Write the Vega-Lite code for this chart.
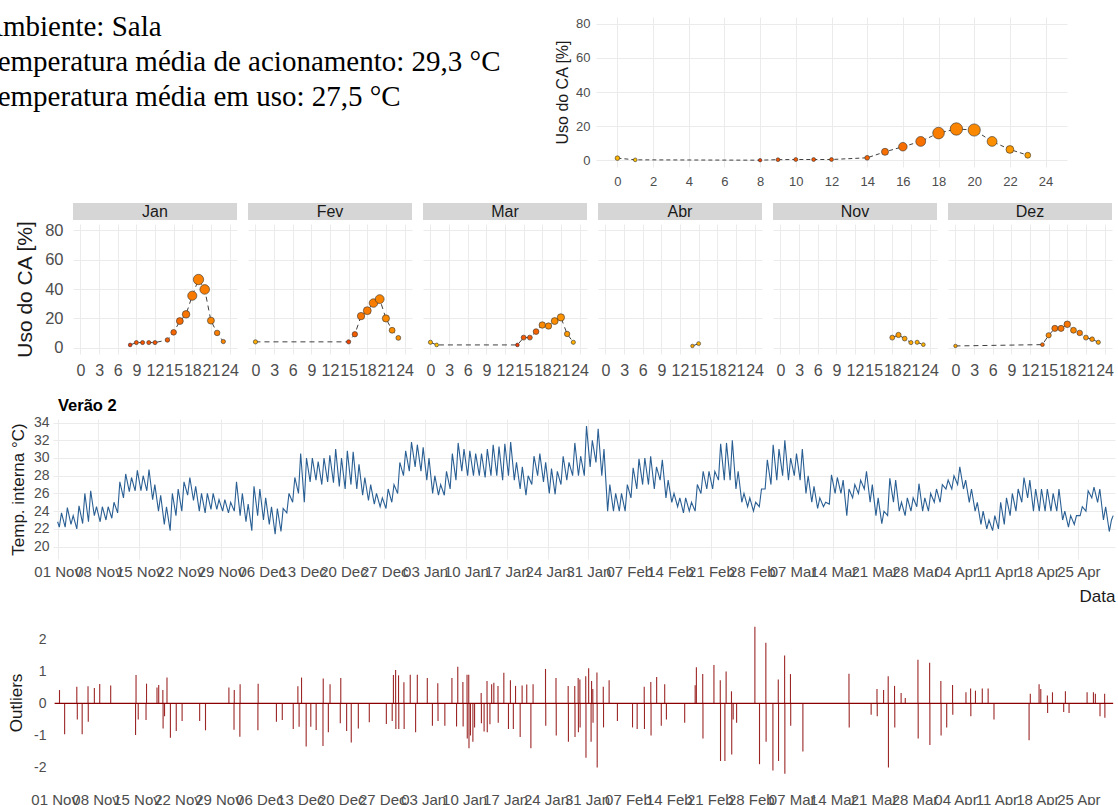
{
"$schema":"https://vega.github.io/schema/vega-lite/v6.json",
"background":"white",
"padding":{"left":-18,"top":13,"right":3,"bottom":2},
"config":{
 "view":{"stroke":null},
 "font":"Liberation Sans",
 "axis":{"domain":false,"ticks":false,"gridColor":"#EBEBEB","gridWidth":1,"labelColor":"#4D4D4D","titleColor":"#1A1A1A","titleFontWeight":"normal","labelFlush":false,"labelOverlap":false,"labelBound":false,"labelFont":"Liberation Sans","titleFont":"Liberation Sans"}
},
"datasets":{
"geral":[{"h":0,"uso":1.2,"temp":27.3},{"h":1,"uso":0.2,"temp":26.9},{"h":8,"uso":0.0,"temp":31.0},{"h":9,"uso":0.3,"temp":30.4},{"h":10,"uso":0.4,"temp":30.3},{"h":11,"uso":0.4,"temp":30.3},{"h":12,"uso":0.4,"temp":30.3},{"h":14,"uso":1.4,"temp":30.0},{"h":15,"uso":4.9,"temp":29.6},{"h":16,"uso":7.9,"temp":29.7},{"h":17,"uso":11.0,"temp":29.6},{"h":18,"uso":15.9,"temp":29.2},{"h":19,"uso":18.3,"temp":29.0},{"h":20,"uso":17.7,"temp":28.8},{"h":21,"uso":11.0,"temp":28.6},{"h":22,"uso":6.3,"temp":28.3},{"h":23,"uso":2.9,"temp":28.0}],
"mensal":[
{"mes":"Jan","h":8,"uso":1.8,"temp":31.0},{"mes":"Jan","h":9,"uso":3.4,"temp":30.4},{"mes":"Jan","h":10,"uso":3.4,"temp":30.4},{"mes":"Jan","h":11,"uso":3.4,"temp":30.4},{"mes":"Jan","h":12,"uso":3.4,"temp":30.4},{"mes":"Jan","h":14,"uso":5.2,"temp":30.2},{"mes":"Jan","h":15,"uso":10.4,"temp":29.9},{"mes":"Jan","h":16,"uso":18.1,"temp":29.8},{"mes":"Jan","h":17,"uso":22.7,"temp":29.5},{"mes":"Jan","h":18,"uso":35.4,"temp":29.3},{"mes":"Jan","h":19,"uso":46.5,"temp":29.1},{"mes":"Jan","h":20,"uso":39.7,"temp":29.2},{"mes":"Jan","h":21,"uso":18.4,"temp":29.0},{"mes":"Jan","h":22,"uso":10.0,"temp":29.2},{"mes":"Jan","h":23,"uso":4.1,"temp":29.0},
{"mes":"Fev","h":0,"uso":3.9,"temp":27.6},{"mes":"Fev","h":15,"uso":3.9,"temp":30.8},{"mes":"Fev","h":16,"uso":9.1,"temp":30.2},{"mes":"Fev","h":17,"uso":21.5,"temp":29.5},{"mes":"Fev","h":18,"uso":25.2,"temp":29.3},{"mes":"Fev","h":19,"uso":30.4,"temp":29.2},{"mes":"Fev","h":20,"uso":33.1,"temp":29.0},{"mes":"Fev","h":21,"uso":19.9,"temp":28.8},{"mes":"Fev","h":22,"uso":11.8,"temp":28.7},{"mes":"Fev","h":23,"uso":6.6,"temp":28.6},
{"mes":"Mar","h":0,"uso":3.6,"temp":27.3},{"mes":"Mar","h":1,"uso":1.8,"temp":26.9},{"mes":"Mar","h":14,"uso":1.8,"temp":31.0},{"mes":"Mar","h":15,"uso":6.8,"temp":30.3},{"mes":"Mar","h":16,"uso":6.8,"temp":30.3},{"mes":"Mar","h":17,"uso":10.9,"temp":30.0},{"mes":"Mar","h":18,"uso":15.4,"temp":28.8},{"mes":"Mar","h":19,"uso":14.7,"temp":28.8},{"mes":"Mar","h":20,"uso":18.1,"temp":28.7},{"mes":"Mar","h":21,"uso":20.6,"temp":28.5},{"mes":"Mar","h":22,"uso":9.3,"temp":28.3},{"mes":"Mar","h":23,"uso":3.6,"temp":27.5},
{"mes":"Abr","h":14,"uso":1.1,"temp":27.8},{"mes":"Abr","h":15,"uso":2.7,"temp":27.4},
{"mes":"Nov","h":18,"uso":6.8,"temp":28.3},{"mes":"Nov","h":19,"uso":8.6,"temp":28.2},{"mes":"Nov","h":20,"uso":6.1,"temp":28.0},{"mes":"Nov","h":21,"uso":3.4,"temp":27.8},{"mes":"Nov","h":22,"uso":3.6,"temp":27.6},{"mes":"Nov","h":23,"uso":2.0,"temp":27.4},
{"mes":"Dez","h":0,"uso":1.1,"temp":27.9},{"mes":"Dez","h":14,"uso":2.0,"temp":29.8},{"mes":"Dez","h":15,"uso":8.4,"temp":28.8},{"mes":"Dez","h":16,"uso":13.1,"temp":29.5},{"mes":"Dez","h":17,"uso":13.1,"temp":29.5},{"mes":"Dez","h":18,"uso":15.9,"temp":29.5},{"mes":"Dez","h":19,"uso":11.8,"temp":28.9},{"mes":"Dez","h":20,"uso":10.0,"temp":29.3},{"mes":"Dez","h":21,"uso":6.8,"temp":28.6},{"mes":"Dez","h":22,"uso":5.7,"temp":28.5},{"mes":"Dez","h":23,"uso":3.6,"temp":28.0}
],
"temp":[
{"t":"2021-11-01T00:00","v":22.8},
{"t":"2021-11-01T07:00","v":22.2},{"t":"2021-11-01T16:00","v":23.8},
{"t":"2021-11-02T07:00","v":22.2},{"t":"2021-11-02T16:00","v":24.4},
{"t":"2021-11-03T07:00","v":22.5},{"t":"2021-11-03T16:00","v":23.5},
{"t":"2021-11-04T07:00","v":22.0},{"t":"2021-11-04T16:00","v":24.6},
{"t":"2021-11-05T07:00","v":22.6},{"t":"2021-11-05T16:00","v":26.0},
{"t":"2021-11-06T07:00","v":22.8},{"t":"2021-11-06T16:00","v":26.3},
{"t":"2021-11-07T07:00","v":23.5},{"t":"2021-11-07T16:00","v":24.5},
{"t":"2021-11-08T07:00","v":22.8},{"t":"2021-11-08T16:00","v":24.5},
{"t":"2021-11-09T07:00","v":23.0},{"t":"2021-11-09T16:00","v":24.5},
{"t":"2021-11-10T07:00","v":23.2},{"t":"2021-11-10T16:00","v":25.0},
{"t":"2021-11-11T07:00","v":23.8},{"t":"2021-11-11T16:00","v":27.3},
{"t":"2021-11-12T07:00","v":25.5},{"t":"2021-11-12T16:00","v":28.2},
{"t":"2021-11-13T07:00","v":26.2},{"t":"2021-11-13T16:00","v":27.8},
{"t":"2021-11-14T07:00","v":26.3},{"t":"2021-11-14T16:00","v":28.6},
{"t":"2021-11-15T07:00","v":26.3},{"t":"2021-11-15T16:00","v":28.0},
{"t":"2021-11-16T07:00","v":26.3},{"t":"2021-11-16T16:00","v":28.7},
{"t":"2021-11-17T07:00","v":25.3},{"t":"2021-11-17T16:00","v":27.0},
{"t":"2021-11-18T07:00","v":24.0},{"t":"2021-11-18T16:00","v":25.8},
{"t":"2021-11-19T07:00","v":22.5},{"t":"2021-11-19T16:00","v":24.5},
{"t":"2021-11-20T07:00","v":21.8},{"t":"2021-11-20T16:00","v":26.0},
{"t":"2021-11-21T07:00","v":23.5},{"t":"2021-11-21T16:00","v":26.5},
{"t":"2021-11-22T07:00","v":24.0},{"t":"2021-11-22T16:00","v":27.3},
{"t":"2021-11-23T07:00","v":25.8},{"t":"2021-11-23T16:00","v":27.8},
{"t":"2021-11-24T07:00","v":25.2},{"t":"2021-11-24T16:00","v":26.8},
{"t":"2021-11-25T07:00","v":24.0},{"t":"2021-11-25T16:00","v":26.0},
{"t":"2021-11-26T07:00","v":23.8},{"t":"2021-11-26T16:00","v":26.0},
{"t":"2021-11-27T07:00","v":24.2},{"t":"2021-11-27T16:00","v":26.0},
{"t":"2021-11-28T07:00","v":24.2},{"t":"2021-11-28T16:00","v":25.3},
{"t":"2021-11-29T07:00","v":24.0},{"t":"2021-11-29T16:00","v":25.3},
{"t":"2021-11-30T07:00","v":23.8},{"t":"2021-11-30T16:00","v":25.0},
{"t":"2021-12-01T07:00","v":24.0},{"t":"2021-12-01T16:00","v":27.3},
{"t":"2021-12-02T07:00","v":23.5},{"t":"2021-12-02T16:00","v":26.0},
{"t":"2021-12-03T07:00","v":22.8},{"t":"2021-12-03T16:00","v":24.8},
{"t":"2021-12-04T07:00","v":21.8},{"t":"2021-12-04T16:00","v":26.8},
{"t":"2021-12-05T07:00","v":23.5},{"t":"2021-12-05T16:00","v":26.5},
{"t":"2021-12-06T07:00","v":23.0},{"t":"2021-12-06T16:00","v":25.5},
{"t":"2021-12-07T07:00","v":22.5},{"t":"2021-12-07T16:00","v":24.5},
{"t":"2021-12-08T07:00","v":21.4},{"t":"2021-12-08T16:00","v":24.3},
{"t":"2021-12-09T07:00","v":21.7},{"t":"2021-12-09T16:00","v":24.3},
{"t":"2021-12-10T07:00","v":23.8},{"t":"2021-12-10T16:00","v":26.0},
{"t":"2021-12-11T07:00","v":25.0},{"t":"2021-12-11T16:00","v":27.8},
{"t":"2021-12-12T07:00","v":26.0},{"t":"2021-12-12T16:00","v":30.5},
{"t":"2021-12-13T07:00","v":25.0},{"t":"2021-12-13T16:00","v":30.0},
{"t":"2021-12-14T07:00","v":27.3},{"t":"2021-12-14T16:00","v":30.0},
{"t":"2021-12-15T07:00","v":27.5},{"t":"2021-12-15T16:00","v":29.6},
{"t":"2021-12-16T07:00","v":27.0},{"t":"2021-12-16T16:00","v":30.0},
{"t":"2021-12-17T07:00","v":27.3},{"t":"2021-12-17T16:00","v":30.3},
{"t":"2021-12-18T07:00","v":27.2},{"t":"2021-12-18T16:00","v":31.0},
{"t":"2021-12-19T07:00","v":26.8},{"t":"2021-12-19T16:00","v":30.0},
{"t":"2021-12-20T07:00","v":26.5},{"t":"2021-12-20T16:00","v":30.8},
{"t":"2021-12-21T07:00","v":27.0},{"t":"2021-12-21T16:00","v":30.7},
{"t":"2021-12-22T07:00","v":26.5},{"t":"2021-12-22T16:00","v":29.3},
{"t":"2021-12-23T07:00","v":25.8},{"t":"2021-12-23T16:00","v":27.8},
{"t":"2021-12-24T07:00","v":25.2},{"t":"2021-12-24T16:00","v":27.0},
{"t":"2021-12-25T07:00","v":24.8},{"t":"2021-12-25T16:00","v":26.0},
{"t":"2021-12-26T07:00","v":24.5},{"t":"2021-12-26T16:00","v":25.5},
{"t":"2021-12-27T07:00","v":24.3},{"t":"2021-12-27T16:00","v":26.5},
{"t":"2021-12-28T07:00","v":25.0},{"t":"2021-12-28T16:00","v":27.0},
{"t":"2021-12-29T07:00","v":26.0},{"t":"2021-12-29T16:00","v":29.5},
{"t":"2021-12-30T07:00","v":28.0},{"t":"2021-12-30T16:00","v":30.8},
{"t":"2021-12-31T07:00","v":28.5},{"t":"2021-12-31T16:00","v":31.8},
{"t":"2022-01-01T07:00","v":29.0},{"t":"2022-01-01T16:00","v":31.5},
{"t":"2022-01-02T07:00","v":28.5},{"t":"2022-01-02T16:00","v":31.2},
{"t":"2022-01-03T07:00","v":27.5},{"t":"2022-01-03T16:00","v":30.0},
{"t":"2022-01-04T07:00","v":26.0},{"t":"2022-01-04T16:00","v":28.0},
{"t":"2022-01-05T07:00","v":25.8},{"t":"2022-01-05T16:00","v":27.0},
{"t":"2022-01-06T07:00","v":25.8},{"t":"2022-01-06T16:00","v":28.5},
{"t":"2022-01-07T07:00","v":26.5},{"t":"2022-01-07T16:00","v":30.5},
{"t":"2022-01-08T07:00","v":27.5},{"t":"2022-01-08T16:00","v":31.7},
{"t":"2022-01-09T07:00","v":28.5},{"t":"2022-01-09T16:00","v":31.0},
{"t":"2022-01-10T07:00","v":28.0},{"t":"2022-01-10T16:00","v":30.8},
{"t":"2022-01-11T07:00","v":28.0},{"t":"2022-01-11T16:00","v":30.5},
{"t":"2022-01-12T07:00","v":28.0},{"t":"2022-01-12T16:00","v":30.5},
{"t":"2022-01-13T07:00","v":27.8},{"t":"2022-01-13T16:00","v":31.0},
{"t":"2022-01-14T07:00","v":28.0},{"t":"2022-01-14T16:00","v":31.5},
{"t":"2022-01-15T07:00","v":28.0},{"t":"2022-01-15T16:00","v":31.3},
{"t":"2022-01-16T07:00","v":27.5},{"t":"2022-01-16T16:00","v":31.6},
{"t":"2022-01-17T07:00","v":28.0},{"t":"2022-01-17T16:00","v":31.8},
{"t":"2022-01-18T07:00","v":27.5},{"t":"2022-01-18T16:00","v":29.5},
{"t":"2022-01-19T07:00","v":26.5},{"t":"2022-01-19T16:00","v":29.0},
{"t":"2022-01-20T07:00","v":25.8},{"t":"2022-01-20T16:00","v":28.0},
{"t":"2022-01-21T07:00","v":27.0},{"t":"2022-01-21T16:00","v":30.2},
{"t":"2022-01-22T07:00","v":28.0},{"t":"2022-01-22T16:00","v":30.5},
{"t":"2022-01-23T07:00","v":27.3},{"t":"2022-01-23T16:00","v":29.5},
{"t":"2022-01-24T07:00","v":26.0},{"t":"2022-01-24T16:00","v":28.8},
{"t":"2022-01-25T07:00","v":25.9},{"t":"2022-01-25T16:00","v":28.5},
{"t":"2022-01-26T07:00","v":27.0},{"t":"2022-01-26T16:00","v":30.2},
{"t":"2022-01-27T07:00","v":27.5},{"t":"2022-01-27T16:00","v":29.5},
{"t":"2022-01-28T07:00","v":28.0},{"t":"2022-01-28T16:00","v":31.7},
{"t":"2022-01-29T07:00","v":28.0},{"t":"2022-01-29T16:00","v":30.2},
{"t":"2022-01-30T07:00","v":28.0},{"t":"2022-01-30T16:00","v":33.6},
{"t":"2022-01-31T07:00","v":29.0},{"t":"2022-01-31T16:00","v":32.0},
{"t":"2022-02-01T07:00","v":29.5},{"t":"2022-02-01T16:00","v":33.3},
{"t":"2022-02-02T07:00","v":28.0},{"t":"2022-02-02T16:00","v":31.0},
{"t":"2022-02-03T07:00","v":24.0},{"t":"2022-02-03T16:00","v":27.0},
{"t":"2022-02-04T07:00","v":24.0},{"t":"2022-02-04T16:00","v":26.0},
{"t":"2022-02-05T07:00","v":24.0},{"t":"2022-02-05T16:00","v":26.0},
{"t":"2022-02-06T07:00","v":24.0},{"t":"2022-02-06T16:00","v":27.0},
{"t":"2022-02-07T07:00","v":25.5},{"t":"2022-02-07T16:00","v":28.9},
{"t":"2022-02-08T07:00","v":26.5},{"t":"2022-02-08T16:00","v":29.9},
{"t":"2022-02-09T07:00","v":27.0},{"t":"2022-02-09T16:00","v":30.0},
{"t":"2022-02-10T07:00","v":27.0},{"t":"2022-02-10T16:00","v":30.2},
{"t":"2022-02-11T07:00","v":26.5},{"t":"2022-02-11T16:00","v":29.0},
{"t":"2022-02-12T07:00","v":27.5},{"t":"2022-02-12T16:00","v":29.8},
{"t":"2022-02-13T07:00","v":25.5},{"t":"2022-02-13T16:00","v":27.5},
{"t":"2022-02-14T07:00","v":25.0},{"t":"2022-02-14T16:00","v":26.0},
{"t":"2022-02-15T07:00","v":24.5},{"t":"2022-02-15T16:00","v":25.5},
{"t":"2022-02-16T07:00","v":23.8},{"t":"2022-02-16T16:00","v":25.5},
{"t":"2022-02-17T07:00","v":24.0},{"t":"2022-02-17T16:00","v":25.0},
{"t":"2022-02-18T07:00","v":24.0},{"t":"2022-02-18T16:00","v":27.0},
{"t":"2022-02-19T07:00","v":26.0},{"t":"2022-02-19T16:00","v":28.5},
{"t":"2022-02-20T07:00","v":26.5},{"t":"2022-02-20T16:00","v":28.5},
{"t":"2022-02-21T07:00","v":26.5},{"t":"2022-02-21T16:00","v":28.5},
{"t":"2022-02-22T07:00","v":27.5},{"t":"2022-02-22T16:00","v":31.6},
{"t":"2022-02-23T07:00","v":27.5},{"t":"2022-02-23T16:00","v":31.7},
{"t":"2022-02-24T07:00","v":27.5},{"t":"2022-02-24T16:00","v":32.0},
{"t":"2022-02-25T07:00","v":26.5},{"t":"2022-02-25T16:00","v":28.5},
{"t":"2022-02-26T07:00","v":25.0},{"t":"2022-02-26T16:00","v":26.0},
{"t":"2022-02-27T07:00","v":24.5},{"t":"2022-02-27T16:00","v":25.5},
{"t":"2022-02-28T07:00","v":24.0},{"t":"2022-02-28T16:00","v":25.0},
{"t":"2022-03-01T07:00","v":24.5},{"t":"2022-03-01T16:00","v":26.5},
{"t":"2022-03-02T07:00","v":26.5},{"t":"2022-03-02T16:00","v":29.8},
{"t":"2022-03-03T07:00","v":27.0},{"t":"2022-03-03T16:00","v":31.5},
{"t":"2022-03-04T07:00","v":27.5},{"t":"2022-03-04T16:00","v":31.0},
{"t":"2022-03-05T07:00","v":28.0},{"t":"2022-03-05T16:00","v":32.0},
{"t":"2022-03-06T07:00","v":27.5},{"t":"2022-03-06T16:00","v":30.0},
{"t":"2022-03-07T07:00","v":28.0},{"t":"2022-03-07T16:00","v":30.5},
{"t":"2022-03-08T07:00","v":27.5},{"t":"2022-03-08T16:00","v":31.0},
{"t":"2022-03-09T07:00","v":26.0},{"t":"2022-03-09T16:00","v":28.0},
{"t":"2022-03-10T07:00","v":25.0},{"t":"2022-03-10T16:00","v":26.8},
{"t":"2022-03-11T07:00","v":24.3},{"t":"2022-03-11T16:00","v":25.5},
{"t":"2022-03-12T07:00","v":24.5},{"t":"2022-03-12T16:00","v":25.0},
{"t":"2022-03-13T07:00","v":24.8},{"t":"2022-03-13T16:00","v":28.1},
{"t":"2022-03-14T07:00","v":26.0},{"t":"2022-03-14T16:00","v":27.8},
{"t":"2022-03-15T07:00","v":26.0},{"t":"2022-03-15T16:00","v":27.5},
{"t":"2022-03-16T07:00","v":23.5},{"t":"2022-03-16T16:00","v":26.5},
{"t":"2022-03-17T07:00","v":25.5},{"t":"2022-03-17T16:00","v":27.0},
{"t":"2022-03-18T07:00","v":26.0},{"t":"2022-03-18T16:00","v":27.5},
{"t":"2022-03-19T07:00","v":26.5},{"t":"2022-03-19T16:00","v":28.5},
{"t":"2022-03-20T07:00","v":25.0},{"t":"2022-03-20T16:00","v":27.0},
{"t":"2022-03-21T07:00","v":23.5},{"t":"2022-03-21T16:00","v":25.5},
{"t":"2022-03-22T07:00","v":22.6},{"t":"2022-03-22T16:00","v":24.0},
{"t":"2022-03-23T07:00","v":23.5},{"t":"2022-03-23T16:00","v":27.7},
{"t":"2022-03-24T07:00","v":25.0},{"t":"2022-03-24T16:00","v":27.5},
{"t":"2022-03-25T07:00","v":24.0},{"t":"2022-03-25T16:00","v":25.0},
{"t":"2022-03-26T07:00","v":23.5},{"t":"2022-03-26T16:00","v":25.5},
{"t":"2022-03-27T07:00","v":24.0},{"t":"2022-03-27T16:00","v":25.5},
{"t":"2022-03-28T07:00","v":24.5},{"t":"2022-03-28T16:00","v":27.1},
{"t":"2022-03-29T07:00","v":24.0},{"t":"2022-03-29T16:00","v":25.5},
{"t":"2022-03-30T07:00","v":24.0},{"t":"2022-03-30T16:00","v":26.0},
{"t":"2022-03-31T07:00","v":25.0},{"t":"2022-03-31T16:00","v":26.5},
{"t":"2022-04-01T07:00","v":25.0},{"t":"2022-04-01T16:00","v":27.0},
{"t":"2022-04-02T07:00","v":26.5},{"t":"2022-04-02T16:00","v":27.5},
{"t":"2022-04-03T07:00","v":26.5},{"t":"2022-04-03T16:00","v":28.0},
{"t":"2022-04-04T07:00","v":27.0},{"t":"2022-04-04T16:00","v":29.0},
{"t":"2022-04-05T07:00","v":26.5},{"t":"2022-04-05T16:00","v":27.5},
{"t":"2022-04-06T07:00","v":25.0},{"t":"2022-04-06T16:00","v":26.5},
{"t":"2022-04-07T07:00","v":24.0},{"t":"2022-04-07T16:00","v":25.0},
{"t":"2022-04-08T07:00","v":22.5},{"t":"2022-04-08T16:00","v":24.0},
{"t":"2022-04-09T07:00","v":22.0},{"t":"2022-04-09T16:00","v":23.0},
{"t":"2022-04-10T07:00","v":21.8},{"t":"2022-04-10T16:00","v":23.5},
{"t":"2022-04-11T07:00","v":22.0},{"t":"2022-04-11T16:00","v":25.0},
{"t":"2022-04-12T07:00","v":22.5},{"t":"2022-04-12T16:00","v":25.5},
{"t":"2022-04-13T07:00","v":23.5},{"t":"2022-04-13T16:00","v":26.0},
{"t":"2022-04-14T07:00","v":24.0},{"t":"2022-04-14T16:00","v":26.5},
{"t":"2022-04-15T07:00","v":25.0},{"t":"2022-04-15T16:00","v":27.8},
{"t":"2022-04-16T07:00","v":25.5},{"t":"2022-04-16T16:00","v":27.5},
{"t":"2022-04-17T07:00","v":24.0},{"t":"2022-04-17T16:00","v":26.5},
{"t":"2022-04-18T07:00","v":24.0},{"t":"2022-04-18T16:00","v":26.5},
{"t":"2022-04-19T07:00","v":24.0},{"t":"2022-04-19T16:00","v":26.5},
{"t":"2022-04-20T07:00","v":24.0},{"t":"2022-04-20T16:00","v":26.0},
{"t":"2022-04-21T07:00","v":24.0},{"t":"2022-04-21T16:00","v":26.5},
{"t":"2022-04-22T07:00","v":23.0},{"t":"2022-04-22T16:00","v":24.0},
{"t":"2022-04-23T07:00","v":22.2},{"t":"2022-04-23T16:00","v":23.5},
{"t":"2022-04-24T07:00","v":22.5},{"t":"2022-04-24T16:00","v":23.5},
{"t":"2022-04-25T07:00","v":23.5},{"t":"2022-04-25T16:00","v":24.5},
{"t":"2022-04-26T07:00","v":24.0},{"t":"2022-04-26T16:00","v":26.3},
{"t":"2022-04-27T07:00","v":25.5},{"t":"2022-04-27T16:00","v":26.7},
{"t":"2022-04-28T07:00","v":25.0},{"t":"2022-04-28T16:00","v":26.5},
{"t":"2022-04-29T07:00","v":23.0},{"t":"2022-04-29T16:00","v":24.5},
{"t":"2022-04-30T07:00","v":21.7},{"t":"2022-04-30T16:00","v":23.0},
{"t":"2022-04-30T23:00","v":23.5}
],
"outl":[
{"t":"2021-11-01T20:00","v":0.42},{"t":"2021-11-02T17:00","v":-0.96},{"t":"2021-11-04T19:00","v":0.52},{"t":"2021-11-04T21:00","v":-0.5},{"t":"2021-11-05T17:00","v":-0.96},{"t":"2021-11-06T17:00","v":0.54},{"t":"2021-11-06T18:00","v":-0.57},{"t":"2021-11-07T19:00","v":0.48},{"t":"2021-11-08T17:00","v":0.61},{"t":"2021-11-10T14:00","v":0.56},
{"t":"2021-11-14T20:00","v":-0.99},{"t":"2021-11-14T22:00","v":0.89},{"t":"2021-11-15T07:00","v":-0.5},{"t":"2021-11-16T15:00","v":-0.52},{"t":"2021-11-16T17:00","v":0.62},{"t":"2021-11-18T12:00","v":0.5},{"t":"2021-11-18T19:00","v":0.58},{"t":"2021-11-19T12:00","v":0.42},{"t":"2021-11-19T13:00","v":-0.78},{"t":"2021-11-19T19:00","v":-0.4},
{"t":"2021-11-20T05:00","v":0.81},{"t":"2021-11-20T19:00","v":-1.07},{"t":"2021-11-21T19:00","v":-0.86},{"t":"2021-11-22T19:00","v":-0.55},{"t":"2021-11-25T19:00","v":-0.55},{"t":"2021-11-26T19:00","v":-0.84},{"t":"2021-11-30T19:00","v":0.5},
{"t":"2021-12-01T16:00","v":-0.82},{"t":"2021-12-01T17:00","v":0.42},{"t":"2021-12-02T16:00","v":-1.04},{"t":"2021-12-02T17:00","v":0.6},{"t":"2021-12-05T18:00","v":-0.84},{"t":"2021-12-05T19:00","v":0.62},{"t":"2021-12-08T22:00","v":-0.57},{"t":"2021-12-09T22:00","v":-0.52},{"t":"2021-12-11T19:00","v":-0.8},
{"t":"2021-12-12T14:00","v":0.54},{"t":"2021-12-12T19:00","v":-0.73},{"t":"2021-12-13T05:00","v":0.81},{"t":"2021-12-14T00:00","v":-1.35},{"t":"2021-12-14T19:00","v":-0.73},{"t":"2021-12-15T17:00","v":-0.83},{"t":"2021-12-16T21:00","v":-1.33},{"t":"2021-12-16T22:00","v":0.78},{"t":"2021-12-17T19:00","v":-0.9},{"t":"2021-12-18T02:00","v":0.6},
{"t":"2021-12-19T20:00","v":-0.62},{"t":"2021-12-19T22:00","v":0.8},{"t":"2021-12-20T22:00","v":-0.86},{"t":"2021-12-21T17:00","v":-1.22},{"t":"2021-12-22T22:00","v":-0.78},{"t":"2021-12-24T19:00","v":-0.59},{"t":"2021-12-27T17:00","v":-0.64},{"t":"2021-12-28T17:00","v":-0.55},{"t":"2021-12-28T22:00","v":0.89},
{"t":"2021-12-29T07:00","v":1.05},{"t":"2021-12-29T08:00","v":-0.8},{"t":"2021-12-29T19:00","v":0.88},{"t":"2021-12-29T20:00","v":-0.8},{"t":"2021-12-30T17:00","v":0.66},{"t":"2021-12-30T18:00","v":-0.8},{"t":"2021-12-31T19:00","v":0.9},
{"t":"2022-01-01T17:00","v":-0.9},{"t":"2022-01-02T00:00","v":0.9},{"t":"2022-01-03T17:00","v":0.8},{"t":"2022-01-04T14:00","v":-0.7},{"t":"2022-01-05T12:00","v":0.63},{"t":"2022-01-05T13:00","v":-0.55},{"t":"2022-01-06T17:00","v":-0.7},{"t":"2022-01-07T22:00","v":0.8},{"t":"2022-01-08T17:00","v":-0.72},{"t":"2022-01-08T22:00","v":1.15},
{"t":"2022-01-09T19:00","v":0.67},{"t":"2022-01-09T20:00","v":-0.72},{"t":"2022-01-10T12:00","v":0.9},{"t":"2022-01-10T13:00","v":-1.1},{"t":"2022-01-10T19:00","v":0.9},{"t":"2022-01-10T20:00","v":-1.4},{"t":"2022-01-11T02:00","v":-1.0},{"t":"2022-01-11T12:00","v":-1.2},{"t":"2022-01-11T19:00","v":-0.75},
{"t":"2022-01-12T22:00","v":0.33},{"t":"2022-01-12T23:00","v":-0.62},{"t":"2022-01-13T10:00","v":-0.88},{"t":"2022-01-13T22:00","v":0.7},{"t":"2022-01-13T23:00","v":-0.9},{"t":"2022-01-14T10:00","v":-0.65},{"t":"2022-01-14T17:00","v":0.6},{"t":"2022-01-15T02:00","v":0.65},{"t":"2022-01-15T19:00","v":0.55},{"t":"2022-01-15T20:00","v":-0.6},
{"t":"2022-01-16T19:00","v":0.96},{"t":"2022-01-17T14:00","v":-0.8},{"t":"2022-01-17T22:00","v":0.73},{"t":"2022-01-18T10:00","v":-0.8},{"t":"2022-01-18T19:00","v":0.55},{"t":"2022-01-19T14:00","v":-1.05},{"t":"2022-01-19T22:00","v":0.56},{"t":"2022-01-20T17:00","v":0.59},{"t":"2022-01-21T10:00","v":-1.4},{"t":"2022-01-21T19:00","v":0.6},
{"t":"2022-01-23T22:00","v":1.08},{"t":"2022-01-23T23:00","v":-0.7},{"t":"2022-01-25T17:00","v":0.8},{"t":"2022-01-25T18:00","v":-1.0},{"t":"2022-01-27T19:00","v":0.55},{"t":"2022-01-27T20:00","v":-1.2},{"t":"2022-01-28T22:00","v":0.55},{"t":"2022-01-28T23:00","v":-1.05},
{"t":"2022-01-29T12:00","v":0.8},{"t":"2022-01-29T13:00","v":-0.9},{"t":"2022-01-29T19:00","v":0.75},{"t":"2022-01-29T20:00","v":-0.75},{"t":"2022-01-30T19:00","v":0.85},{"t":"2022-01-30T20:00","v":-1.7},{"t":"2022-01-31T07:00","v":1.1},{"t":"2022-01-31T17:00","v":-1.2},{"t":"2022-01-31T19:00","v":0.7},
{"t":"2022-02-01T00:00","v":0.45},{"t":"2022-02-01T01:00","v":-0.6},{"t":"2022-02-01T17:00","v":0.97},{"t":"2022-02-01T18:00","v":-2.0},{"t":"2022-02-02T19:00","v":0.52},{"t":"2022-02-02T20:00","v":-0.75},{"t":"2022-02-03T19:00","v":0.73},{"t":"2022-02-05T05:00","v":-0.55},
{"t":"2022-02-07T19:00","v":-0.75},{"t":"2022-02-08T14:00","v":-0.8},{"t":"2022-02-09T19:00","v":0.52},{"t":"2022-02-09T20:00","v":-0.8},{"t":"2022-02-10T22:00","v":0.67},{"t":"2022-02-10T23:00","v":-1.0},{"t":"2022-02-11T22:00","v":0.83},{"t":"2022-02-12T17:00","v":-0.7},{"t":"2022-02-13T07:00","v":0.6},{"t":"2022-02-13T14:00","v":-0.5},
{"t":"2022-02-16T17:00","v":-0.6},{"t":"2022-02-18T12:00","v":0.57},{"t":"2022-02-18T17:00","v":1.13},{"t":"2022-02-19T19:00","v":0.92},{"t":"2022-02-19T20:00","v":-1.1},{"t":"2022-02-21T17:00","v":1.2},{"t":"2022-02-22T19:00","v":0.73},{"t":"2022-02-22T20:00","v":-1.8},
{"t":"2022-02-23T14:00","v":-1.8},{"t":"2022-02-23T19:00","v":1.0},{"t":"2022-02-24T17:00","v":0.38},{"t":"2022-02-24T18:00","v":-1.6},{"t":"2022-02-25T00:00","v":-0.5},{"t":"2022-02-25T14:00","v":-0.6},{"t":"2022-02-28T17:00","v":2.4},
{"t":"2022-03-01T12:00","v":-1.9},{"t":"2022-03-02T14:00","v":1.9},{"t":"2022-03-02T15:00","v":-1.2},{"t":"2022-03-03T19:00","v":-2.1},{"t":"2022-03-04T17:00","v":0.75},{"t":"2022-03-04T18:00","v":-1.8},{"t":"2022-03-05T19:00","v":1.5},{"t":"2022-03-05T20:00","v":-2.2},{"t":"2022-03-06T19:00","v":0.92},{"t":"2022-03-06T20:00","v":-0.7},{"t":"2022-03-08T22:00","v":-1.5},
{"t":"2022-03-16T19:00","v":0.93},{"t":"2022-03-16T20:00","v":-0.75},{"t":"2022-03-20T14:00","v":-0.35},{"t":"2022-03-21T14:00","v":0.45},{"t":"2022-03-21T15:00","v":-0.4},{"t":"2022-03-22T17:00","v":0.42},{"t":"2022-03-23T12:00","v":0.85},{"t":"2022-03-23T13:00","v":-2.0},{"t":"2022-03-24T14:00","v":0.55},{"t":"2022-03-24T15:00","v":-0.75},{"t":"2022-03-25T17:00","v":0.33},{"t":"2022-03-26T10:00","v":0.17},
{"t":"2022-03-28T14:00","v":1.37},{"t":"2022-03-28T15:00","v":-1.1},{"t":"2022-03-30T14:00","v":1.27},{"t":"2022-03-30T15:00","v":-1.3},
{"t":"2022-04-01T12:00","v":0.7},{"t":"2022-04-01T13:00","v":-1.0},{"t":"2022-04-02T12:00","v":-0.75},{"t":"2022-04-03T12:00","v":0.58},{"t":"2022-04-03T13:00","v":-0.35},{"t":"2022-04-05T19:00","v":0.35},{"t":"2022-04-06T14:00","v":0.47},{"t":"2022-04-06T15:00","v":-0.4},{"t":"2022-04-07T10:00","v":0.4},{"t":"2022-04-08T14:00","v":0.47},{"t":"2022-04-09T14:00","v":0.47},{"t":"2022-04-10T14:00","v":-0.5},
{"t":"2022-04-16T14:00","v":-1.15},{"t":"2022-04-16T19:00","v":0.3},{"t":"2022-04-18T07:00","v":0.6},{"t":"2022-04-18T14:00","v":0.45},{"t":"2022-04-19T17:00","v":0.25},{"t":"2022-04-19T18:00","v":-0.3},{"t":"2022-04-20T14:00","v":0.35},{"t":"2022-04-22T12:00","v":-0.27},{"t":"2022-04-22T19:00","v":0.38},{"t":"2022-04-23T10:00","v":-0.3},
{"t":"2022-04-26T12:00","v":0.35},{"t":"2022-04-27T14:00","v":0.35},{"t":"2022-04-27T22:00","v":0.3},{"t":"2022-04-28T17:00","v":-0.4},{"t":"2022-04-29T12:00","v":0.3},{"t":"2022-04-29T13:00","v":-0.45}
]
},
"vconcat":[
 {"hconcat":[
   {"width":614,"height":186,
    "data":{"values":[{"linha":1,"texto":"Ambiente: Sala"},{"linha":2,"texto":"Temperatura média de acionamento: 29,3 °C"},{"linha":3,"texto":"Temperatura média em uso: 27,5 °C"}]},
    "mark":{"type":"text","align":"left","baseline":"alphabetic","font":"Liberation Serif","fontSize":29,"color":"#000000"},
    "encoding":{
      "x":{"datum":0,"type":"quantitative","scale":{"domain":[0,1]},"axis":null},
      "y":{"field":"linha","type":"quantitative","scale":{"domain":[0.4532,5.8057],"reverse":true,"nice":false,"zero":false},"axis":null},
      "text":{"field":"texto"}}},
   {"width":471,"height":150,"data":{"name":"geral"},
    "encoding":{
      "x":{"field":"h","type":"quantitative","scale":{"domain":[-1.2,25.2],"nice":false,"zero":false},
           "axis":{"values":[0,2,4,6,8,10,12,14,16,18,20,22,24],"labelFontSize":13,"labelPadding":8,"title":null}},
      "y":{"field":"uso","type":"quantitative","scale":{"domain":[-4,84],"nice":false,"zero":false},
           "axis":{"values":[0,20,40,60,80],"labelFontSize":13,"labelPadding":6,"title":"Uso do CA [%]","titleFontSize":16,"titlePadding":5}}},
    "layer":[
      {"mark":{"type":"line","strokeDash":[4,3],"color":"#404040","strokeWidth":1}},
      {"mark":{"type":"circle","stroke":"#333333","strokeWidth":0.6,"opacity":1},
       "encoding":{
         "color":{"field":"temp","type":"quantitative","scale":{"domain":[26.9,31],"range":["#FFC000","#EE3B00"]},"legend":null},
         "size":{"field":"uso","type":"quantitative","scale":{"domain":[0,18.3],"range":[12,154]},"legend":null}}}
    ]}
  ],"spacing":0,"bounds":"flush"},
 {"hconcat":[
   {"width":80,"height":17,"data":{"values":[]},"mark":"point"},
   {"width":164,"height":17,"view":{"fill":"#D6D6D6","stroke":null},"data":{"values":[{"m":"Jan"}]},"mark":{"type":"text","fontSize":16,"color":"#1A1A1A","baseline":"middle"},"encoding":{"text":{"field":"m"}}},
   {"width":164,"height":17,"view":{"fill":"#D6D6D6","stroke":null},"data":{"values":[{"m":"Fev"}]},"mark":{"type":"text","fontSize":16,"color":"#1A1A1A","baseline":"middle"},"encoding":{"text":{"field":"m"}}},
   {"width":164,"height":17,"view":{"fill":"#D6D6D6","stroke":null},"data":{"values":[{"m":"Mar"}]},"mark":{"type":"text","fontSize":16,"color":"#1A1A1A","baseline":"middle"},"encoding":{"text":{"field":"m"}}},
   {"width":164,"height":17,"view":{"fill":"#D6D6D6","stroke":null},"data":{"values":[{"m":"Abr"}]},"mark":{"type":"text","fontSize":16,"color":"#1A1A1A","baseline":"middle"},"encoding":{"text":{"field":"m"}}},
   {"width":164,"height":17,"view":{"fill":"#D6D6D6","stroke":null},"data":{"values":[{"m":"Nov"}]},"mark":{"type":"text","fontSize":16,"color":"#1A1A1A","baseline":"middle"},"encoding":{"text":{"field":"m"}}},
   {"width":164,"height":17,"view":{"fill":"#D6D6D6","stroke":null},"data":{"values":[{"m":"Dez"}]},"mark":{"type":"text","fontSize":16,"color":"#1A1A1A","baseline":"middle"},"encoding":{"text":{"field":"m"}}}
  ],"spacing":11,"bounds":"flush"},
 {"hconcat":[
   {"width":80,"height":173.5,"data":{"values":[]},"mark":"point"},
   {"width":164,"height":130,"data":{"name":"mensal"},"transform":[{"filter":"datum.mes === 'Jan'"}],
    "encoding":{
      "x":{"field":"h","type":"quantitative","scale":{"domain":[-1.2,25.2],"nice":false,"zero":false},"axis":{"values":[0,3,6,9,12,15,18,21,24],"labelFontSize":16,"labelPadding":8,"title":null}},
      "y":{"field":"uso","type":"quantitative","scale":{"domain":[-4.4,84.4],"nice":false,"zero":false},"axis":{"values":[0,20,40,60,80],"labelFontSize":16.5,"labelPadding":10,"title":"Uso do CA [%]","titleFontSize":21,"titlePadding":9}}},
    "layer":[
      {"mark":{"type":"line","strokeDash":[5,4],"color":"#404040","strokeWidth":1}},
      {"mark":{"type":"circle","stroke":"#333333","strokeWidth":0.6,"opacity":1},
       "encoding":{
         "color":{"field":"temp","type":"quantitative","scale":{"domain":[26.9,31],"range":["#FFC000","#EE3B00"]},"legend":null},
         "size":{"field":"uso","type":"quantitative","scale":{"domain":[0,46.5],"range":[10,107]},"legend":null}}}
    ]},
   {"width":164,"height":130,"data":{"name":"mensal"},"transform":[{"filter":"datum.mes === 'Fev'"}],
    "encoding":{
      "x":{"field":"h","type":"quantitative","scale":{"domain":[-1.2,25.2],"nice":false,"zero":false},"axis":{"values":[0,3,6,9,12,15,18,21,24],"labelFontSize":16,"labelPadding":8,"title":null}},
      "y":{"field":"uso","type":"quantitative","scale":{"domain":[-4.4,84.4],"nice":false,"zero":false},"axis":{"values":[0,20,40,60,80],"labels":false,"title":null}}},
    "layer":[
      {"mark":{"type":"line","strokeDash":[5,4],"color":"#404040","strokeWidth":1}},
      {"mark":{"type":"circle","stroke":"#333333","strokeWidth":0.6,"opacity":1},
       "encoding":{
         "color":{"field":"temp","type":"quantitative","scale":{"domain":[26.9,31],"range":["#FFC000","#EE3B00"]},"legend":null},
         "size":{"field":"uso","type":"quantitative","scale":{"domain":[0,46.5],"range":[10,107]},"legend":null}}}
    ]},
   {"width":164,"height":130,"data":{"name":"mensal"},"transform":[{"filter":"datum.mes === 'Mar'"}],
    "encoding":{
      "x":{"field":"h","type":"quantitative","scale":{"domain":[-1.2,25.2],"nice":false,"zero":false},"axis":{"values":[0,3,6,9,12,15,18,21,24],"labelFontSize":16,"labelPadding":8,"title":null}},
      "y":{"field":"uso","type":"quantitative","scale":{"domain":[-4.4,84.4],"nice":false,"zero":false},"axis":{"values":[0,20,40,60,80],"labels":false,"title":null}}},
    "layer":[
      {"mark":{"type":"line","strokeDash":[5,4],"color":"#404040","strokeWidth":1}},
      {"mark":{"type":"circle","stroke":"#333333","strokeWidth":0.6,"opacity":1},
       "encoding":{
         "color":{"field":"temp","type":"quantitative","scale":{"domain":[26.9,31],"range":["#FFC000","#EE3B00"]},"legend":null},
         "size":{"field":"uso","type":"quantitative","scale":{"domain":[0,46.5],"range":[10,107]},"legend":null}}}
    ]},
   {"width":164,"height":130,"data":{"name":"mensal"},"transform":[{"filter":"datum.mes === 'Abr'"}],
    "encoding":{
      "x":{"field":"h","type":"quantitative","scale":{"domain":[-1.2,25.2],"nice":false,"zero":false},"axis":{"values":[0,3,6,9,12,15,18,21,24],"labelFontSize":16,"labelPadding":8,"title":null}},
      "y":{"field":"uso","type":"quantitative","scale":{"domain":[-4.4,84.4],"nice":false,"zero":false},"axis":{"values":[0,20,40,60,80],"labels":false,"title":null}}},
    "layer":[
      {"mark":{"type":"line","strokeDash":[5,4],"color":"#404040","strokeWidth":1}},
      {"mark":{"type":"circle","stroke":"#333333","strokeWidth":0.6,"opacity":1},
       "encoding":{
         "color":{"field":"temp","type":"quantitative","scale":{"domain":[26.9,31],"range":["#FFC000","#EE3B00"]},"legend":null},
         "size":{"field":"uso","type":"quantitative","scale":{"domain":[0,46.5],"range":[10,107]},"legend":null}}}
    ]},
   {"width":164,"height":130,"data":{"name":"mensal"},"transform":[{"filter":"datum.mes === 'Nov'"}],
    "encoding":{
      "x":{"field":"h","type":"quantitative","scale":{"domain":[-1.2,25.2],"nice":false,"zero":false},"axis":{"values":[0,3,6,9,12,15,18,21,24],"labelFontSize":16,"labelPadding":8,"title":null}},
      "y":{"field":"uso","type":"quantitative","scale":{"domain":[-4.4,84.4],"nice":false,"zero":false},"axis":{"values":[0,20,40,60,80],"labels":false,"title":null}}},
    "layer":[
      {"mark":{"type":"line","strokeDash":[5,4],"color":"#404040","strokeWidth":1}},
      {"mark":{"type":"circle","stroke":"#333333","strokeWidth":0.6,"opacity":1},
       "encoding":{
         "color":{"field":"temp","type":"quantitative","scale":{"domain":[26.9,31],"range":["#FFC000","#EE3B00"]},"legend":null},
         "size":{"field":"uso","type":"quantitative","scale":{"domain":[0,46.5],"range":[10,107]},"legend":null}}}
    ]},
   {"width":164,"height":130,"data":{"name":"mensal"},"transform":[{"filter":"datum.mes === 'Dez'"}],
    "encoding":{
      "x":{"field":"h","type":"quantitative","scale":{"domain":[-1.2,25.2],"nice":false,"zero":false},"axis":{"values":[0,3,6,9,12,15,18,21,24],"labelFontSize":16,"labelPadding":8,"title":null}},
      "y":{"field":"uso","type":"quantitative","scale":{"domain":[-4.4,84.4],"nice":false,"zero":false},"axis":{"values":[0,20,40,60,80],"labels":false,"title":null}}},
    "layer":[
      {"mark":{"type":"line","strokeDash":[5,4],"color":"#404040","strokeWidth":1}},
      {"mark":{"type":"circle","stroke":"#333333","strokeWidth":0.6,"opacity":1},
       "encoding":{
         "color":{"field":"temp","type":"quantitative","scale":{"domain":[26.9,31],"range":["#FFC000","#EE3B00"]},"legend":null},
         "size":{"field":"uso","type":"quantitative","scale":{"domain":[0,46.5],"range":[10,107]},"legend":null}}}
    ]}
  ],"spacing":11,"bounds":"flush"},
 {"hconcat":[
   {"width":69,"height":202,"data":{"values":[]},"mark":"point"},
   {"width":1062,"height":140,
    "title":{"text":"Verão 2","anchor":"start","frame":"group","fontSize":16.5,"fontWeight":"bold","color":"#000000","dx":5,"dy":21,"offset":9,"baseline":"alphabetic","font":"Liberation Sans"},
    "data":{"name":"temp"},
    "mark":{"type":"line","color":"#2A5F94","strokeWidth":1.1},
    "encoding":{
      "x":{"field":"t","type":"temporal",
           "scale":{"domain":[{"year":2021,"month":10,"date":31,"hours":5},{"year":2022,"month":5,"date":1,"hours":6,"minutes":30}]},
           "axis":{"values":[{"year":2021,"month":11,"date":1},{"year":2021,"month":11,"date":8},{"year":2021,"month":11,"date":15},{"year":2021,"month":11,"date":22},{"year":2021,"month":11,"date":29},{"year":2021,"month":12,"date":6},{"year":2021,"month":12,"date":13},{"year":2021,"month":12,"date":20},{"year":2021,"month":12,"date":27},{"year":2022,"month":1,"date":3},{"year":2022,"month":1,"date":10},{"year":2022,"month":1,"date":17},{"year":2022,"month":1,"date":24},{"year":2022,"month":1,"date":31},{"year":2022,"month":2,"date":7},{"year":2022,"month":2,"date":14},{"year":2022,"month":2,"date":21},{"year":2022,"month":2,"date":28},{"year":2022,"month":3,"date":7},{"year":2022,"month":3,"date":14},{"year":2022,"month":3,"date":21},{"year":2022,"month":3,"date":28},{"year":2022,"month":4,"date":4},{"year":2022,"month":4,"date":11},{"year":2022,"month":4,"date":18},{"year":2022,"month":4,"date":25}],
                   "format":"%d %b","labelFontSize":15,"labelPadding":5,"title":"Data","titleAnchor":"end","titleFontSize":17,"titlePadding":9}},
      "y":{"field":"v","type":"quantitative","scale":{"domain":[18.6,34.4],"nice":false,"zero":false},
           "axis":{"values":[20,22,24,26,28,30,32,34],"labelFontSize":14,"labelPadding":4,"title":"Temp. interna °C)","titleFontSize":17,"titlePadding":6}}}}
  ],"spacing":2,"bounds":"flush"},
 {"hconcat":[
   {"width":57,"height":170,"data":{"values":[]},"mark":"point"},
   {"width":1065,"height":163,
    "layer":[
      {"data":{"values":[{}]},
       "mark":{"type":"rule","color":"#8B0000","strokeWidth":1.2},
       "encoding":{
         "x":{"datum":{"year":2021,"month":11,"date":1},"type":"temporal"},
         "x2":{"datum":{"year":2022,"month":4,"date":30,"hours":23}},
         "y":{"datum":0,"type":"quantitative"}}},
      {"data":{"name":"outl"},
       "mark":{"type":"rule","color":"#8B0000","strokeWidth":1.1,"opacity":0.85},
       "encoding":{
         "x":{"field":"t","type":"temporal",
              "scale":{"domain":[{"year":2021,"month":10,"date":31,"hours":5},{"year":2022,"month":5,"date":1,"hours":6,"minutes":30}]},
              "axis":{"values":[{"year":2021,"month":11,"date":1},{"year":2021,"month":11,"date":8},{"year":2021,"month":11,"date":15},{"year":2021,"month":11,"date":22},{"year":2021,"month":11,"date":29},{"year":2021,"month":12,"date":6},{"year":2021,"month":12,"date":13},{"year":2021,"month":12,"date":20},{"year":2021,"month":12,"date":27},{"year":2022,"month":1,"date":3},{"year":2022,"month":1,"date":10},{"year":2022,"month":1,"date":17},{"year":2022,"month":1,"date":24},{"year":2022,"month":1,"date":31},{"year":2022,"month":2,"date":7},{"year":2022,"month":2,"date":14},{"year":2022,"month":2,"date":21},{"year":2022,"month":2,"date":28},{"year":2022,"month":3,"date":7},{"year":2022,"month":3,"date":14},{"year":2022,"month":3,"date":21},{"year":2022,"month":3,"date":28},{"year":2022,"month":4,"date":4},{"year":2022,"month":4,"date":11},{"year":2022,"month":4,"date":18},{"year":2022,"month":4,"date":25}],
                      "format":"%d %b","labelFontSize":15,"labelPadding":8.5,"title":null}},
         "y":{"field":"v","type":"quantitative","scale":{"domain":[-2.52,2.58],"nice":false,"zero":false},
              "axis":{"values":[-2,-1,0,1,2],"labelExpr":"'' + datum.value","labelFontSize":14,"labelPadding":4,"title":"Outliers","titleFontSize":17,"titlePadding":8}},
         "y2":{"datum":0}}}
    ]}
  ],"spacing":11,"bounds":"flush"}
],
"spacing":0,
"resolve":{"scale":{"color":"independent","size":"independent"}}
}
